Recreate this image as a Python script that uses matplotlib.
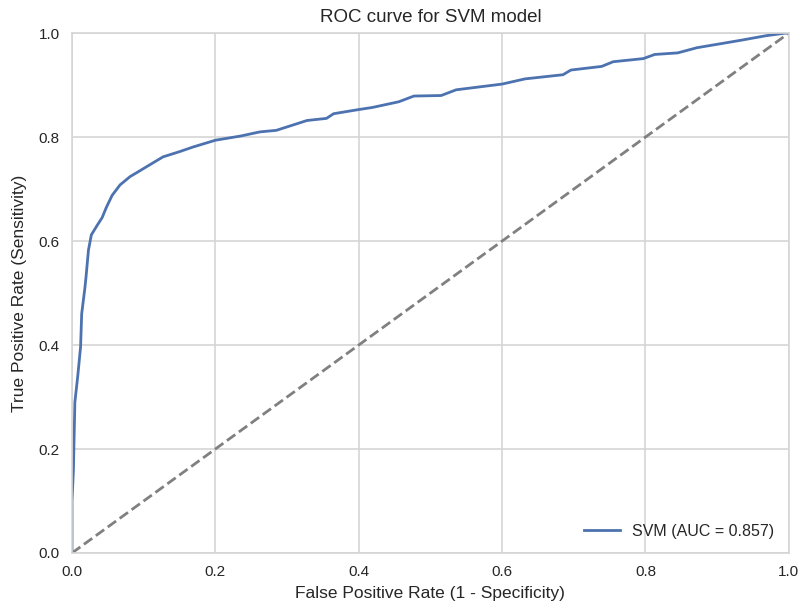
import matplotlib
matplotlib.use("Agg")
import matplotlib.pyplot as plt
import numpy as np

# ROC curve points
fpr = [0.0, 0.0, 0.002, 0.004, 0.008, 0.012, 0.0135, 0.018, 0.0195, 0.023, 0.027,
       0.035, 0.042, 0.048, 0.056, 0.067, 0.081, 0.092, 0.104, 0.127, 0.15, 0.169, 0.2,
       0.235, 0.262, 0.285, 0.328, 0.355, 0.365, 0.4, 0.419, 0.456, 0.477,
       0.515, 0.536, 0.6, 0.632, 0.685, 0.696, 0.739, 0.755, 0.797, 0.813,
       0.845, 0.872, 0.915, 0.936, 0.968, 0.995, 1.0]
tpr = [0.0, 0.1, 0.16, 0.29, 0.34, 0.397, 0.46, 0.51, 0.53, 0.583, 0.612,
       0.63, 0.645, 0.665, 0.688, 0.708, 0.724, 0.733, 0.743, 0.762, 0.772, 0.781, 0.794,
       0.802, 0.81, 0.813, 0.832, 0.836, 0.845, 0.853, 0.857, 0.868, 0.879,
       0.88, 0.891, 0.902, 0.912, 0.92, 0.929, 0.936, 0.945, 0.951, 0.959,
       0.962, 0.972, 0.982, 0.987, 0.995, 1.0, 1.0]
auc_value = 0.857
ticks = [0.0, 0.2, 0.4, 0.6, 0.8, 1.0]

plt.rcParams['font.family'] = ['Liberation Sans', 'DejaVu Sans']
text_color = '#262626'

fig = plt.figure(figsize=(8, 6.08), dpi=100)
ax = fig.add_axes([0.09, 0.0905, 0.896, 0.855])
ax.set_facecolor('white')

ax.plot(fpr, tpr, color='#4C72B0', lw=2, label='SVM (AUC = %.3f)' % auc_value)
ax.plot([0, 1], [0, 1], color='grey', lw=2, linestyle='--')

ax.set_xlim(0, 1)
ax.set_ylim(0, 1)
ax.set_xticks(ticks)
ax.set_yticks(ticks)
ax.set_xticklabels(['%.1f' % t for t in ticks])
ax.set_yticklabels(['%.1f' % t for t in ticks])
ax.grid(True, color='#d5d5d5', lw=1.2)
ax.set_axisbelow(True)
for s in ax.spines.values():
    s.set_color('#d5d5d5')
    s.set_linewidth(1.2)
ax.tick_params(length=0, pad=9, labelsize=11, labelcolor=text_color)

ax.set_title('ROC curve for SVM model', fontsize=13.5, color=text_color, pad=8)
ax.set_xlabel('False Positive Rate (1 - Specificity)', fontsize=12.5, color=text_color, labelpad=5)
ax.set_ylabel('True Positive Rate (Sensitivity)', fontsize=12.5, color=text_color, labelpad=8)
ax.legend(loc='lower right', frameon=False, fontsize=11.5, labelcolor=text_color,
          handlelength=2.2)

fig.savefig('out.png', dpi=100, facecolor='white')
